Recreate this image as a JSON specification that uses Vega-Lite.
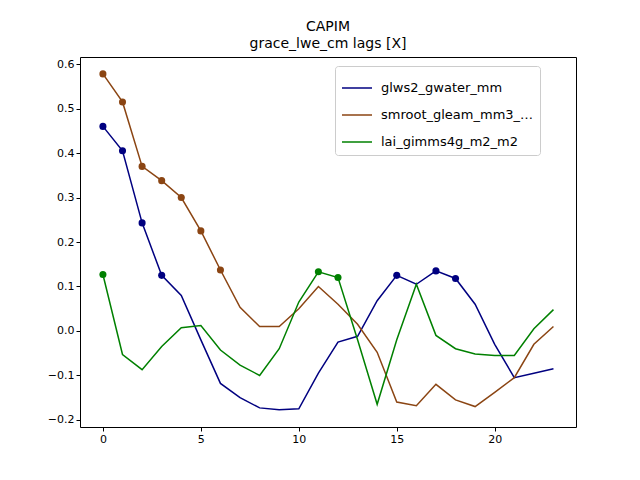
{
  "$schema": "https://vega.github.io/schema/vega-lite/v6.json",
  "width": 496,
  "height": 370,
  "autosize": {"type": "none"},
  "padding": {"left": 80, "top": 57, "right": 64, "bottom": 53},
  "config": {
    "font": "DejaVu Sans",
    "view": {"stroke": "black"},
    "axis": {"grid": false, "domain": false, "labelFontSize": 11, "labelColor": "black", "tickColor": "black", "tickSize": 4, "title": null}
  },
  "title": {"text": ["CAPIM", "grace_lwe_cm lags [X]"], "fontSize": 14, "fontWeight": "normal", "offset": 6, "lineHeight": 17},
  "data": {"values": [
    {"s":"glws2_gwater_mm","x":0,"y":0.46,"sig":1},{"s":"glws2_gwater_mm","x":1,"y":0.405,"sig":1},{"s":"glws2_gwater_mm","x":2,"y":0.243,"sig":1},{"s":"glws2_gwater_mm","x":3,"y":0.125,"sig":1},{"s":"glws2_gwater_mm","x":4,"y":0.08,"sig":0},{"s":"glws2_gwater_mm","x":5,"y":-0.02,"sig":0},{"s":"glws2_gwater_mm","x":6,"y":-0.118,"sig":0},{"s":"glws2_gwater_mm","x":7,"y":-0.15,"sig":0},{"s":"glws2_gwater_mm","x":8,"y":-0.173,"sig":0},{"s":"glws2_gwater_mm","x":9,"y":-0.177,"sig":0},{"s":"glws2_gwater_mm","x":10,"y":-0.175,"sig":0},{"s":"glws2_gwater_mm","x":11,"y":-0.095,"sig":0},{"s":"glws2_gwater_mm","x":12,"y":-0.025,"sig":0},{"s":"glws2_gwater_mm","x":13,"y":-0.012,"sig":0},{"s":"glws2_gwater_mm","x":14,"y":0.068,"sig":0},{"s":"glws2_gwater_mm","x":15,"y":0.125,"sig":1},{"s":"glws2_gwater_mm","x":16,"y":0.105,"sig":0},{"s":"glws2_gwater_mm","x":17,"y":0.135,"sig":1},{"s":"glws2_gwater_mm","x":18,"y":0.118,"sig":1},{"s":"glws2_gwater_mm","x":19,"y":0.06,"sig":0},{"s":"glws2_gwater_mm","x":20,"y":-0.03,"sig":0},{"s":"glws2_gwater_mm","x":21,"y":-0.105,"sig":0},{"s":"glws2_gwater_mm","x":22,"y":-0.095,"sig":0},{"s":"glws2_gwater_mm","x":23,"y":-0.085,"sig":0},
    {"s":"smroot_gleam_mm3_mm3","x":0,"y":0.578,"sig":1},{"s":"smroot_gleam_mm3_mm3","x":1,"y":0.515,"sig":1},{"s":"smroot_gleam_mm3_mm3","x":2,"y":0.37,"sig":1},{"s":"smroot_gleam_mm3_mm3","x":3,"y":0.338,"sig":1},{"s":"smroot_gleam_mm3_mm3","x":4,"y":0.3,"sig":1},{"s":"smroot_gleam_mm3_mm3","x":5,"y":0.225,"sig":1},{"s":"smroot_gleam_mm3_mm3","x":6,"y":0.137,"sig":1},{"s":"smroot_gleam_mm3_mm3","x":7,"y":0.053,"sig":0},{"s":"smroot_gleam_mm3_mm3","x":8,"y":0.01,"sig":0},{"s":"smroot_gleam_mm3_mm3","x":9,"y":0.01,"sig":0},{"s":"smroot_gleam_mm3_mm3","x":10,"y":0.05,"sig":0},{"s":"smroot_gleam_mm3_mm3","x":11,"y":0.1,"sig":0},{"s":"smroot_gleam_mm3_mm3","x":12,"y":0.06,"sig":0},{"s":"smroot_gleam_mm3_mm3","x":13,"y":0.015,"sig":0},{"s":"smroot_gleam_mm3_mm3","x":14,"y":-0.048,"sig":0},{"s":"smroot_gleam_mm3_mm3","x":15,"y":-0.16,"sig":0},{"s":"smroot_gleam_mm3_mm3","x":16,"y":-0.168,"sig":0},{"s":"smroot_gleam_mm3_mm3","x":17,"y":-0.12,"sig":0},{"s":"smroot_gleam_mm3_mm3","x":18,"y":-0.155,"sig":0},{"s":"smroot_gleam_mm3_mm3","x":19,"y":-0.17,"sig":0},{"s":"smroot_gleam_mm3_mm3","x":20,"y":-0.138,"sig":0},{"s":"smroot_gleam_mm3_mm3","x":21,"y":-0.105,"sig":0},{"s":"smroot_gleam_mm3_mm3","x":22,"y":-0.03,"sig":0},{"s":"smroot_gleam_mm3_mm3","x":23,"y":0.01,"sig":0},
    {"s":"lai_gimms4g_m2_m2","x":0,"y":0.127,"sig":1},{"s":"lai_gimms4g_m2_m2","x":1,"y":-0.053,"sig":0},{"s":"lai_gimms4g_m2_m2","x":2,"y":-0.087,"sig":0},{"s":"lai_gimms4g_m2_m2","x":3,"y":-0.035,"sig":0},{"s":"lai_gimms4g_m2_m2","x":4,"y":0.007,"sig":0},{"s":"lai_gimms4g_m2_m2","x":5,"y":0.012,"sig":0},{"s":"lai_gimms4g_m2_m2","x":6,"y":-0.043,"sig":0},{"s":"lai_gimms4g_m2_m2","x":7,"y":-0.077,"sig":0},{"s":"lai_gimms4g_m2_m2","x":8,"y":-0.1,"sig":0},{"s":"lai_gimms4g_m2_m2","x":9,"y":-0.04,"sig":0},{"s":"lai_gimms4g_m2_m2","x":10,"y":0.065,"sig":0},{"s":"lai_gimms4g_m2_m2","x":11,"y":0.133,"sig":1},{"s":"lai_gimms4g_m2_m2","x":12,"y":0.12,"sig":1},{"s":"lai_gimms4g_m2_m2","x":13,"y":-0.02,"sig":0},{"s":"lai_gimms4g_m2_m2","x":14,"y":-0.165,"sig":0},{"s":"lai_gimms4g_m2_m2","x":15,"y":-0.02,"sig":0},{"s":"lai_gimms4g_m2_m2","x":16,"y":0.105,"sig":0},{"s":"lai_gimms4g_m2_m2","x":17,"y":-0.01,"sig":0},{"s":"lai_gimms4g_m2_m2","x":18,"y":-0.04,"sig":0},{"s":"lai_gimms4g_m2_m2","x":19,"y":-0.052,"sig":0},{"s":"lai_gimms4g_m2_m2","x":20,"y":-0.055,"sig":0},{"s":"lai_gimms4g_m2_m2","x":21,"y":-0.055,"sig":0},{"s":"lai_gimms4g_m2_m2","x":22,"y":0.005,"sig":0},{"s":"lai_gimms4g_m2_m2","x":23,"y":0.048,"sig":0}
  ]},
  "encoding": {
    "x": {"field": "x", "type": "quantitative", "scale": {"domain": [-1.17, 24.15], "nice": false, "zero": false}, "axis": {"values": [0, 5, 10, 15, 20]}},
    "y": {"field": "y", "type": "quantitative", "scale": {"domain": [-0.216, 0.616], "nice": false, "zero": false}, "axis": {"values": [-0.2, -0.1, 0, 0.1, 0.2, 0.3, 0.4, 0.5, 0.6], "format": ".1f"}},
    "color": {"field": "s", "type": "nominal",
      "scale": {"domain": ["glws2_gwater_mm", "smroot_gleam_mm3_mm3", "lai_gimms4g_m2_m2"], "range": ["#000080", "#8b4513", "#008000"]}}
  },
  "layer": [
    {"mark": {"type": "line", "strokeWidth": 1.5},
     "encoding": {"color": {"field": "s", "type": "nominal", "title": null,
       "scale": {"domain": ["glws2_gwater_mm", "smroot_gleam_mm3_mm3", "lai_gimms4g_m2_m2"], "range": ["#000080", "#8b4513", "#008000"]},
       "legend": {"orient": "none", "legendX": 255, "legendY": 9, "symbolType": "stroke", "symbolSize": 900, "symbolStrokeWidth": 1.5, "labelFontSize": 13, "labelColor": "black", "labelOffset": 8, "rowPadding": 4, "padding": 6, "strokeColor": "#cccccc", "fillColor": "white", "cornerRadius": 3}}}},
    {"transform": [{"filter": "datum.sig == 1"}],
     "mark": {"type": "circle", "size": 50, "opacity": 1}}
  ]
}
